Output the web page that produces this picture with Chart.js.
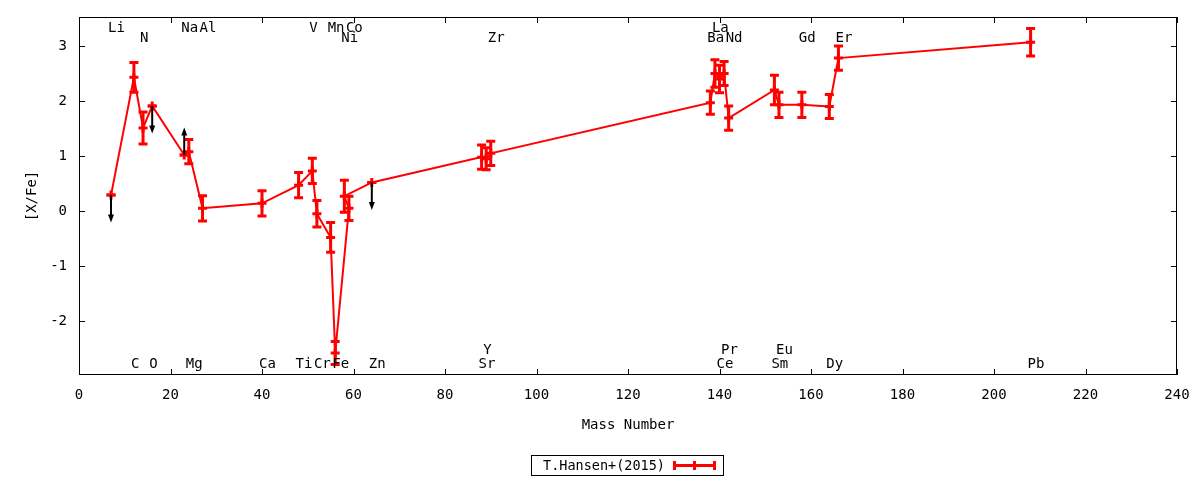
<!DOCTYPE html>
<html><head><meta charset="utf-8">
<script src="https://cdn.jsdelivr.net/npm/chart.js@4"></script>
<style>html,body{margin:0;padding:0;background:#fff}#wrap{width:1200px;height:480px;position:relative}</style>
</head><body><div id="wrap"><canvas id="c"></canvas></div>
<script>
// ---- data ----
const elements    = ['Li','C','N','O','Na','Mg','Al','Ca','Ti','V','Cr','Mn','Fe','Co','Ni','Zn','Sr','Y','Zr','Ba','La','Ce','Pr','Nd','Sm','Eu','Gd','Dy','Er','Pb'];
const massNumbers = [7,12,14,16,23,24,27,40,48,51,52,55,56,59,58,64,88,89,90,138,139,140,141,142,152,153,158,164,166,208];
const xOverFe     = [0.29,2.43,1.51,1.91,1.02,1.08,0.05,0.14,0.47,0.73,-0.05,-0.48,-2.58,0.05,0.27,0.52,0.98,0.95,1.05,1.97,2.50,2.40,2.50,1.69,2.20,1.93,1.93,1.90,2.78,3.07];
const xOverFeErr  = [0,0.27,0.29,0,0,0.22,0.23,0.23,0.23,0.23,0.24,0.27,0.21,0.22,0.29,0,0.22,0.20,0.22,0.21,0.25,0.25,0.22,0.22,0.27,0.23,0.23,0.22,0.22,0.25];
const limitFlags  = [-1,0,0,-1,1,0,0,0,0,0,0,0,0,0,0,-1,0,0,0,0,0,0,0,0,0,0,0,0,0,0]; // -1 upper limit, 1 lower limit
const labelRows   = [1,-1,2,-1,1,-1,1,-1,-1,1,-1,1,-1,1,2,-1,-1,-2,2,2,1,-1,-2,2,-1,-2,2,-1,2,-1]; // 1/2 top rows, -1/-2 bottom rows
const xTicks = [0,20,40,60,80,100,120,140,160,180,200,220,240];
const yTicks = [-2,-1,0,1,2,3];
const seriesName = 'T.Hansen+(2015)';
const xTitle = 'Mass Number';
const yTitle = '[X/Fe]';

// ---- style ----
const FONT = '"DejaVu Sans Mono", "Liberation Mono", monospace';
const RED = '#ff0000';
Chart.defaults.font.family = FONT;
Chart.defaults.font.size = 13;
Chart.defaults.color = '#000';

const pts = massNumbers.map((m, i) => ({x: m, y: xOverFe[i]}));

const deco = {
  id: 'deco',
  beforeDatasetsDraw(chart) {
    const {ctx, scales: {x, y}} = chart;
    ctx.save();
    ctx.strokeStyle = RED;
    ctx.lineWidth = 3;
    ctx.lineCap = 'butt';
    pts.forEach((p, i) => {
      const e = xOverFeErr[i];
      const px = x.getPixelForValue(p.x);
      const y1 = y.getPixelForValue(p.y - e), y2 = y.getPixelForValue(p.y + e);
      ctx.beginPath();
      ctx.moveTo(px, y1); ctx.lineTo(px, y2);
      ctx.moveTo(px - 4.5, y1); ctx.lineTo(px + 4.5, y1);
      ctx.moveTo(px - 4.5, y2); ctx.lineTo(px + 4.5, y2);
      ctx.stroke();
    });
    ctx.restore();
  },
  afterDraw(chart) {
    const {ctx, chartArea: a, scales: {x, y}} = chart;
    ctx.save();
    // border
    ctx.strokeStyle = '#000';
    ctx.lineWidth = 1;
    ctx.strokeRect(a.left + 0.5, a.top + 0.5, a.right - a.left - 1, a.bottom - a.top - 1);
    // inward ticks
    ctx.beginPath();
    xTicks.forEach(v => {
      const px = Math.round(x.getPixelForValue(v)) + 0.5;
      ctx.moveTo(px, a.bottom); ctx.lineTo(px, a.bottom - 6);
      ctx.moveTo(px, a.top); ctx.lineTo(px, a.top + 6);
    });
    yTicks.forEach(v => {
      const py = Math.round(y.getPixelForValue(v)) + 0.5;
      ctx.moveTo(a.left, py); ctx.lineTo(a.left + 6, py);
      ctx.moveTo(a.right, py); ctx.lineTo(a.right - 6, py);
    });
    ctx.stroke();
    // tick labels
    ctx.fillStyle = '#000';
    ctx.font = '14px ' + FONT;
    ctx.textBaseline = 'middle';
    ctx.textAlign = 'center';
    xTicks.forEach(v => ctx.fillText(String(v), x.getPixelForValue(v), a.bottom + 20));
    ctx.textAlign = 'right';
    yTicks.forEach(v => ctx.fillText(String(v), a.left - 12, y.getPixelForValue(v)));
    // limit arrows
    ctx.strokeStyle = '#000';
    ctx.lineWidth = 2;
    pts.forEach((p, i) => {
      const d = limitFlags[i];
      if (!d) return;
      const px = x.getPixelForValue(p.x);
      const y0 = y.getPixelForValue(p.y);
      const y1 = y.getPixelForValue(p.y + d * 0.5);
      const s = Math.sign(y1 - y0);
      ctx.beginPath();
      ctx.moveTo(px, y0); ctx.lineTo(px, y1 - s * 6);
      ctx.stroke();
      ctx.beginPath();
      ctx.moveTo(px, y1);
      ctx.lineTo(px - 3, y1 - s * 8);
      ctx.lineTo(px + 3, y1 - s * 8);
      ctx.closePath();
      ctx.fill();
    });
    // element labels
    ctx.textAlign = 'left';
    const rowY = {1: a.top + 11, 2: a.top + 21, '-1': a.bottom - 11, '-2': a.bottom - 25};
    elements.forEach((el, i) => {
      ctx.fillText(el, x.getPixelForValue(massNumbers[i]) - 3, rowY[labelRows[i]]);
    });
    // axis titles
    ctx.textAlign = 'center';
    ctx.fillText(xTitle, (a.left + a.right) / 2, 425);
    ctx.save();
    ctx.translate(32, (a.top + a.bottom) / 2);
    ctx.rotate(-Math.PI / 2);
    ctx.fillText(yTitle, 0, 0);
    ctx.restore();
    // legend
    ctx.lineWidth = 1;
    ctx.strokeRect(531.5, 455.5, 192, 20);
    ctx.textAlign = 'right';
    ctx.font = '13.5px ' + FONT;
    ctx.fillText(seriesName, 665, 466);
    ctx.strokeStyle = RED;
    ctx.lineWidth = 3;
    ctx.beginPath();
    ctx.moveTo(673, 465.5); ctx.lineTo(716, 465.5);
    [674.5, 694.5, 714.5].forEach(cx => { ctx.moveTo(cx, 461); ctx.lineTo(cx, 470); });
    ctx.stroke();
    ctx.restore();
  }
};

new Chart(document.getElementById('c'), {
  type: 'line',
  data: {
    datasets: [{
      label: seriesName,
      data: pts,
      borderColor: RED,
      backgroundColor: RED,
      borderWidth: 2,
      pointStyle: 'cross',
      pointRadius: 4.5,
      pointBorderWidth: 3,
      pointBorderColor: RED,
      pointHoverRadius: 4.5,
      tension: 0,
      fill: false
    }]
  },
  options: {
    responsive: true,
    maintainAspectRatio: false,
    animation: false,
    events: [],
    layout: {padding: {left: 0, right: 23, top: 17, bottom: 0}},
    plugins: {legend: {display: false}, tooltip: {enabled: false}},
    scales: {
      x: {
        type: 'linear', min: 0, max: 240,
        afterFit: s => { s.height = 105; },
        afterBuildTicks: s => { s.ticks = xTicks.map(v => ({value: v})); },
        grid: {display: false, drawTicks: false},
        border: {display: false},
        ticks: {display: false}
      },
      y: {
        type: 'linear', min: -2.98, max: 3.527,
        afterFit: s => { s.width = 79; },
        afterBuildTicks: s => { s.ticks = yTicks.map(v => ({value: v})); },
        grid: {display: false, drawTicks: false},
        border: {display: false},
        ticks: {display: false}
      }
    }
  },
  plugins: [deco]
});
</script>
</body></html>
